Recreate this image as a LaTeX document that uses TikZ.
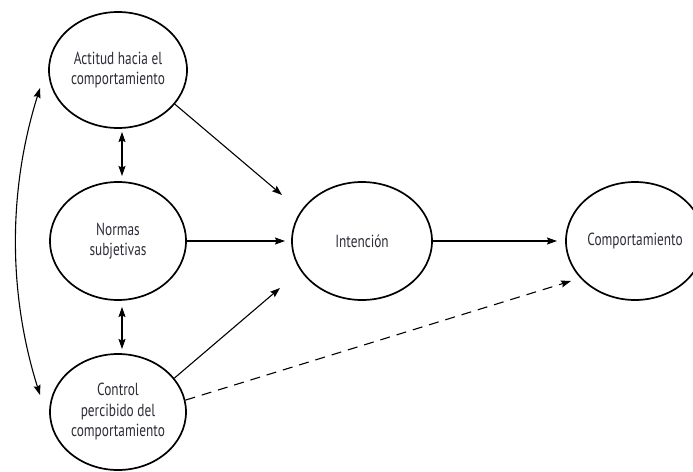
\documentclass[tikz,border=0pt]{standalone}
\usepackage{fontspec}
\setmainfont{PT Sans}[FakeStretch=0.76]
\usetikzlibrary{shapes.geometric,arrows.meta}
\definecolor{txt}{RGB}{46,44,56}
\tikzset{
  oval/.style={ellipse, draw=black, line width=1.7pt, inner sep=0pt,
    text=txt, align=center, font=\fontsize{17.5}{20.5}\selectfont},
  arr/.style={line width=1.1pt, -{Stealth[length=10pt,width=7pt,inset=1.5pt]}},
  dbl/.style={line width=1.1pt, {Stealth[length=10pt,width=7pt,inset=1.5pt]}-{Stealth[length=10pt,width=7pt,inset=1.5pt]}},
  dash arr/.style={arr, dash pattern=on 10pt off 7pt}
}
\begin{document}
\begin{tikzpicture}[x=1pt,y=-1pt]
\useasboundingbox (0,0) rectangle (693,471);
\clip (0,0) rectangle (693,471);
\node[oval, minimum width=138pt, minimum height=116pt] (A) at (118,70) {Actitud hacia el\\comportamiento};
\node[oval, minimum width=136pt, minimum height=118pt] (N) at (118,241) {Normas\\subjetivas};
\node[oval, minimum width=136pt, minimum height=116pt] (C) at (118,412) {Control\\percibido del\\comportamiento};
\node[oval, minimum width=140pt, minimum height=118pt] (I) at (362,241) {Intención};
\node[oval, minimum width=138pt, minimum height=118pt] (B) at (635,241) {Comportamiento};

\coordinate (aI) at (282,195);
\coordinate (nI) at (285,241);
\coordinate (cI) at (280,288);
\coordinate (iB) at (557,241);
\coordinate (cB) at (571,281);
\coordinate (an1) at (122,132);
\coordinate (an2) at (122,176);
\coordinate (nc1) at (122,307);
\coordinate (nc2) at (122,349);
\coordinate (ac1) at (40,88);
\coordinate (ac2) at (40,395);

\draw[arr] (A.-31.5) -- (aI);
\draw[arr] (N.east) -- (nI);
\draw[arr] (C.31.5) -- (cI);
\draw[arr] (I.east) -- (iB);
\draw[dash arr] (C.10) -- (cB);
\draw[dbl] (an1) -- (an2);
\draw[dbl] (nc1) -- (nc2);
\draw[dbl] (ac1) .. controls (8,190) and (8,293) .. (ac2);
\end{tikzpicture}
\end{document}
